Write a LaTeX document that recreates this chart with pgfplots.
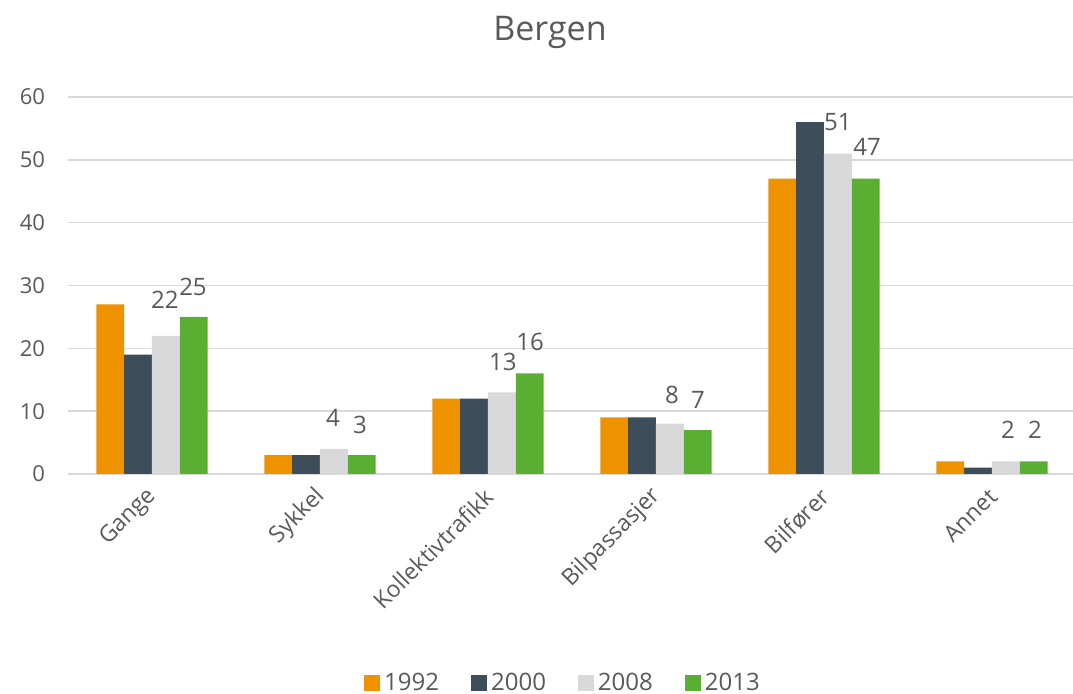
\documentclass[border=0pt]{standalone}
\usepackage{fontspec}
\setmainfont{Open Sans}
\usepackage{pgfplots}
\pgfplotsset{compat=1.18}
\definecolor{c92}{RGB}{238,146,0}
\definecolor{c00}{RGB}{61,77,89}
\definecolor{c08}{RGB}{217,217,217}
\definecolor{c13}{RGB}{90,175,50}
\definecolor{txt}{RGB}{89,89,89}
\definecolor{gridc}{RGB}{217,217,217}
\begin{document}
\begin{tikzpicture}
\begin{axis}[
  at={(0,0)}, anchor=south west,
  scale only axis, width=504pt, height=188.5pt,
  xmin=-0.5, xmax=5.5, ymin=0, ymax=60,
  ybar=0pt, bar width=13.9pt,
  axis line style={draw=none},
  major tick length=0pt,
  ymajorgrids, grid style={draw=gridc, line width=0.8pt},
  xtick={0,...,5},
  xticklabels={Gange,Sykkel,Kollektivtrafikk,Bilpassasjer,Bilfører,Annet},
  ytick={0,10,...,60},
  /pgf/number format/assume math mode=true,
  tick label style={text=txt},
  yticklabel style={font=\fontsize{11}{12}\selectfont, xshift=-8pt},
  xticklabel style={xshift=3pt, font=\fontsize{11.5}{13}\selectfont, rotate=45, anchor=east},
  xticklabel shift=7pt,
  legend style={at={(0.5,0)}, yshift=-104.5pt, xshift=-4pt, anchor=center, draw=none,
    font=\fontsize{12}{14}\selectfont, text=txt,
    /tikz/every even column/.append style={column sep=14pt}},
  legend columns=4,
  legend image code/.code={\fill (0pt,-4pt) rectangle (8pt,4pt);},
  every axis plot/.append style={draw=none},
]
\addplot[fill=c92] coordinates {(0,27) (1,3) (2,12) (3,9) (4,47) (5,2)};
\addplot[fill=c00] coordinates {(0,19) (1,3) (2,12) (3,9) (4,56) (5,1)};
\addplot[fill=c08] coordinates {(0,22) (1,4) (2,13) (3,8) (4,51) (5,2)};
\addplot[fill=c13] coordinates {(0,25) (1,3) (2,16) (3,7) (4,47) (5,2)};
\legend{1992,2000,2008,2013}
\begin{scope}[every node/.style={text=txt, font=\fontsize{12}{14}\selectfont, inner sep=0pt}]
\node at (axis cs:0.077,27.7) {22};
\node at (axis cs:0.244,29.8) {25};
\node at (axis cs:1.077,8.9) {4};
\node at (axis cs:1.238,7.8) {3};
\node at (axis cs:2.089,17.8) {13};
\node at (axis cs:2.25,21.0) {16};
\node at (axis cs:3.095,12.6) {8};
\node at (axis cs:3.25,11.8) {7};
\node at (axis cs:4.083,56.0) {51};
\node at (axis cs:4.256,52.1) {47};
\node at (axis cs:5.095,7.0) {2};
\node at (axis cs:5.256,7.0) {2};
\end{scope}
\end{axis}
\node[text=txt, font=\fontsize{17}{19}\selectfont] at (241pt,221pt) {Bergen};
\pgfresetboundingbox
\path[use as bounding box] (-34pt,-110pt) rectangle (502.5pt,237pt);
\end{tikzpicture}
\end{document}
